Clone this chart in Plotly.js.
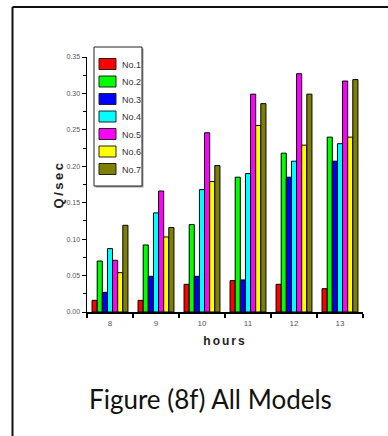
<!DOCTYPE html>
<html>
<head>
<meta charset="utf-8">
<script src="https://cdn.plot.ly/plotly-3.0.1.min.js"></script>
<style>
html,body{margin:0;padding:0;background:#fff;}
#chart{width:388px;height:436px;}
#chart .ytitle{letter-spacing:2.5px;}
#chart .xtitle{letter-spacing:2px;}
#chart .annotation-text-g .legtxt{letter-spacing:1px;}
</style>
</head>
<body>
<div id="chart"></div>
<script>
const hours = ["8", "9", "10", "11", "12", "13"];
const seriesNames = ["No.1", "No.2", "No.3", "No.4", "No.5", "No.6", "No.7"];
const seriesColors = ["#ff0000", "#00ff00", "#0000ff", "#00ffff", "#ff00ff", "#ffff00", "#808000"];
const no1 = [0.016, 0.016, 0.038, 0.043, 0.038, 0.032];
const no2 = [0.070, 0.092, 0.120, 0.185, 0.218, 0.240];
const no3 = [0.027, 0.049, 0.049, 0.044, 0.185, 0.207];
const no4 = [0.087, 0.136, 0.168, 0.190, 0.207, 0.231];
const no5 = [0.071, 0.166, 0.246, 0.299, 0.327, 0.317];
const no6 = [0.054, 0.103, 0.179, 0.256, 0.229, 0.240];
const no7 = [0.119, 0.116, 0.201, 0.286, 0.299, 0.319];
const yTickVals = [0, 0.05, 0.10, 0.15, 0.20, 0.25, 0.30, 0.35];
const yTickText = ["0.00", "0.05", "0.10", "0.15", "0.20", "0.25", "0.30", "0.35"];

const allSeries = [no1, no2, no3, no4, no5, no6, no7];
const traces = allSeries.map((vals, i) => ({
  type: "bar",
  name: seriesNames[i],
  x: hours,
  y: vals,
  marker: {color: seriesColors[i], line: {color: "#000", width: 1}},
  hoverinfo: "x+y+name",
  showlegend: false
}));

const L = 87, T = 57, PW = 276, PH = 255;
const px = v => (v - L) / PW;
const py = v => (T + PH - v) / PH;
const FONT = "Liberation Sans, Arial, sans-serif";

// custom legend (box + swatches + labels) built from names/colors
const LG = {x0: 94, x1: 142, y0: 47, y1: 186, swX0: 99, swX1: 116, swH: 11, firstY: 64, step: 17.5, textX: 120};
const shapes = [
  {type: "rect", xref: "paper", yref: "paper", x0: px(LG.x0 + 1.5), x1: px(LG.x1 + 1.5), y0: py(LG.y1 + 1.5), y1: py(LG.y0 + 1.5), line: {width: 0}, fillcolor: "#999"},
  {type: "rect", xref: "paper", yref: "paper", x0: px(LG.x0), x1: px(LG.x1), y0: py(LG.y1), y1: py(LG.y0), line: {color: "#222", width: 1}, fillcolor: "#fff"},
  {type: "line", xref: "paper", yref: "paper", x0: px(12.5), x1: px(388), y0: py(7), y1: py(7), line: {color: "#111", width: 2}},
  {type: "line", xref: "paper", yref: "paper", x0: px(12.5), x1: px(12.5), y0: py(7), y1: py(436), line: {color: "#111", width: 2}}
];
const annotations = [
  {text: "Figure (8f) All Models", xref: "paper", yref: "paper", x: px(210), y: py(399), xanchor: "center", yanchor: "middle", showarrow: false,
   font: {family: "Lato, Open Sans, sans-serif", size: 26, color: "#111"}}
];
seriesNames.forEach((name, i) => {
  const cy = LG.firstY + i * LG.step;
  shapes.push({type: "rect", xref: "paper", yref: "paper", layer: "above",
    x0: px(LG.swX0), x1: px(LG.swX1), y0: py(cy + LG.swH / 2), y1: py(cy - LG.swH / 2),
    line: {color: "#222", width: 1}, fillcolor: seriesColors[i]});
  annotations.push({text: "<span class='legtxt'>" + name + "</span>", xref: "paper", yref: "paper", x: px(LG.textX), y: py(cy + 0.5),
    xanchor: "left", yanchor: "middle", showarrow: false,
    font: {family: FONT, size: 9, color: "#333"}});
});

const layout = {
  width: 388, height: 436,
  margin: {l: L, r: 388 - L - PW, t: T, b: 436 - T - PH, pad: 0},
  paper_bgcolor: "#fff", plot_bgcolor: "#fff",
  barmode: "group", bargap: 0.22, bargroupgap: 0,
  showlegend: false,
  xaxis: {
    type: "category", automargin: false,
    showline: true, linecolor: "#000", linewidth: 1.5,
    ticks: "outside", ticklen: 4, tickcolor: "#000", tickwidth: 1.5,
    tickson: "boundaries", ticklabelstandoff: 3,
    tickfont: {family: FONT, size: 8, color: "#555"},
    showgrid: false, zeroline: false,
    title: {text: "hours", font: {family: FONT, size: 12, color: "#222", weight: "bold"}, standoff: 9}
  },
  yaxis: {
    range: [0, 0.35], automargin: false,
    showline: true, linecolor: "#000", linewidth: 1.5,
    tickvals: yTickVals, ticktext: yTickText,
    ticks: "outside", ticklen: 4, tickcolor: "#000", tickwidth: 1,
    minor: {dtick: 0.025, ticks: "outside", ticklen: 3, tickcolor: "#000", tickwidth: 1, showgrid: false},
    tickfont: {family: FONT, size: 7, color: "#555"},
    showgrid: false, zeroline: false,
    title: {text: "Q/sec", font: {family: FONT, size: 13, color: "#222", weight: "bold"}, standoff: 0}
  },
  shapes: shapes,
  annotations: annotations
};

Plotly.newPlot("chart", traces, layout, {displayModeBar: false, staticPlot: true});
</script>
</body>
</html>
